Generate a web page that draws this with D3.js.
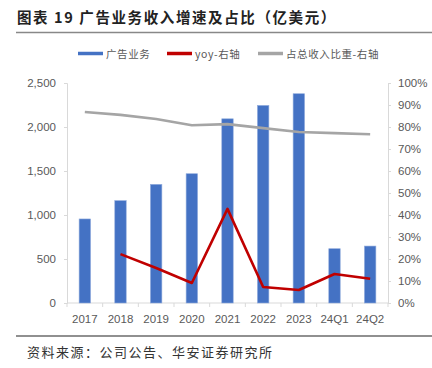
<!DOCTYPE html>
<html><head><meta charset="utf-8">
<script src="https://cdn.jsdelivr.net/npm/d3@7/dist/d3.min.js"></script>
<style>body{margin:0;background:#fff;}svg{display:block;}</style>
</head><body>
<svg id="c" width="432" height="368"></svg>
<script>
const categories = ["2017","2018","2019","2020","2021","2022","2023","24Q1","24Q2"];
const adRevenue = [955, 1163, 1348, 1469, 2093, 2245, 2378, 617, 647];
const yoy = [null, 0.222, 0.159, 0.091, 0.428, 0.073, 0.059, 0.132, 0.110];
const share = [0.868, 0.855, 0.836, 0.808, 0.813, 0.795, 0.777, 0.772, 0.767];
const leftTicks = [0, 500, 1000, 1500, 2000, 2500];
const rightTicks = [0,0.1,0.2,0.3,0.4,0.5,0.6,0.7,0.8,0.9,1.0];

const svg = d3.select("#c");
const font = "'Noto Sans CJK SC', 'Noto Sans', sans-serif";
const L = 67, R = 388, T = 83, B = 303;

// title
svg.append("text").attr("x", 17).attr("y", 23).attr("font-family", font)
  .attr("font-size", 14.5).attr("font-weight", "bold").attr("fill", "#222")
  .attr("letter-spacing", 1.6)
  .text("图表 19  广告业务收入增速及占比（亿美元）");
svg.append("line").attr("x1", 16).attr("x2", 432).attr("y1", 32.5).attr("y2", 32.5)
  .attr("stroke", "#888").attr("stroke-width", 1.5);

const x = d3.scaleBand().domain(categories).range([L, R]).paddingInner(0.68).paddingOuter(0.34);
const y = d3.scaleLinear().domain([0, 2500]).range([B, T]);
const y2 = d3.scaleLinear().domain([0, 1]).range([B, T]);

// axes
const axL = svg.append("g").attr("transform", `translate(${L},0)`)
  .call(d3.axisLeft(y).tickValues(leftTicks).tickSize(3).tickPadding(8).tickFormat(d3.format(",")));
const axR = svg.append("g").attr("transform", `translate(${R},0)`)
  .call(d3.axisRight(y2).tickValues(rightTicks).tickSize(3).tickPadding(7).tickFormat(d3.format(".0%")));
[axL, axR].forEach(a => {
  a.select(".domain").attr("stroke", "#d9d9d9");
  a.selectAll(".tick line").attr("stroke", "#d9d9d9");
  a.selectAll("text").attr("fill", "#595959").attr("font-size", 11.5).attr("font-family", "'Liberation Sans', Arial, sans-serif");
});

// x axis
const xb = svg.append("g");
xb.append("line").attr("x1", L).attr("x2", R).attr("y1", B).attr("y2", B).attr("stroke", "#d9d9d9");
d3.range(categories.length + 1).forEach(i => {
  const xx = L + i * (R - L) / categories.length;
  xb.append("line").attr("x1", xx).attr("x2", xx).attr("y1", B).attr("y2", B + 4).attr("stroke", "#d9d9d9");
});
xb.selectAll("text.xl").data(categories).join("text").attr("class", "xl")
  .attr("x", d => x(d) + x.bandwidth() / 2).attr("y", B + 20)
  .attr("text-anchor", "middle").attr("fill", "#595959").attr("font-size", 11.5)
  .attr("font-family", "'Liberation Sans', Arial, sans-serif").text(d => d);

// bars
svg.append("g").selectAll("rect").data(adRevenue).join("rect")
  .attr("x", (d, i) => x(categories[i])).attr("width", x.bandwidth())
  .attr("y", d => y(d)).attr("height", d => B - y(d))
  .attr("fill", "#4472C4").attr("stroke", "#8FAADC").attr("stroke-width", 0.6);

const cx = c => x(c) + x.bandwidth() / 2;
// share line
const shareLine = d3.line().x((d, i) => cx(categories[i])).y(d => y2(d));
svg.append("path").datum(share).attr("d", shareLine).attr("fill", "none")
  .attr("stroke", "#A5A5A5").attr("stroke-width", 2.6).attr("stroke-linejoin", "round");
// yoy line
const yoyLine = d3.line().defined(d => d !== null).x((d, i) => cx(categories[i])).y(d => y2(d));
svg.append("path").datum(yoy).attr("d", yoyLine).attr("fill", "none")
  .attr("stroke", "#C00000").attr("stroke-width", 2.6).attr("stroke-linejoin", "round");

// legend
const legend = [
  {label: "广告业务", color: "#4472C4", x: 78},
  {label: "yoy-右轴", color: "#C00000", x: 167},
  {label: "占总收入比重-右轴", color: "#A5A5A5", x: 258}
];
const lg = svg.append("g");
legend.forEach(l => {
  lg.append("line").attr("x1", l.x).attr("x2", l.x + 25).attr("y1", 53.5).attr("y2", 53.5)
    .attr("stroke", l.color).attr("stroke-width", 3.5);
  lg.append("text").attr("x", l.x + 28).attr("y", 57.5).attr("font-size", 10.5)
    .attr("letter-spacing", 0.6)
    .attr("font-family", font).attr("fill", "#595959").text(l.label);
});

// source
svg.append("line").attr("x1", 16).attr("x2", 432).attr("y1", 336).attr("y2", 336)
  .attr("stroke", "#222").attr("stroke-width", 1.2);
svg.append("text").attr("x", 27).attr("y", 357).attr("font-size", 13)
  .attr("letter-spacing", 1.5)
  .attr("font-family", font).attr("fill", "#333").text("资料来源：公司公告、华安证券研究所");
</script>
</body></html>
